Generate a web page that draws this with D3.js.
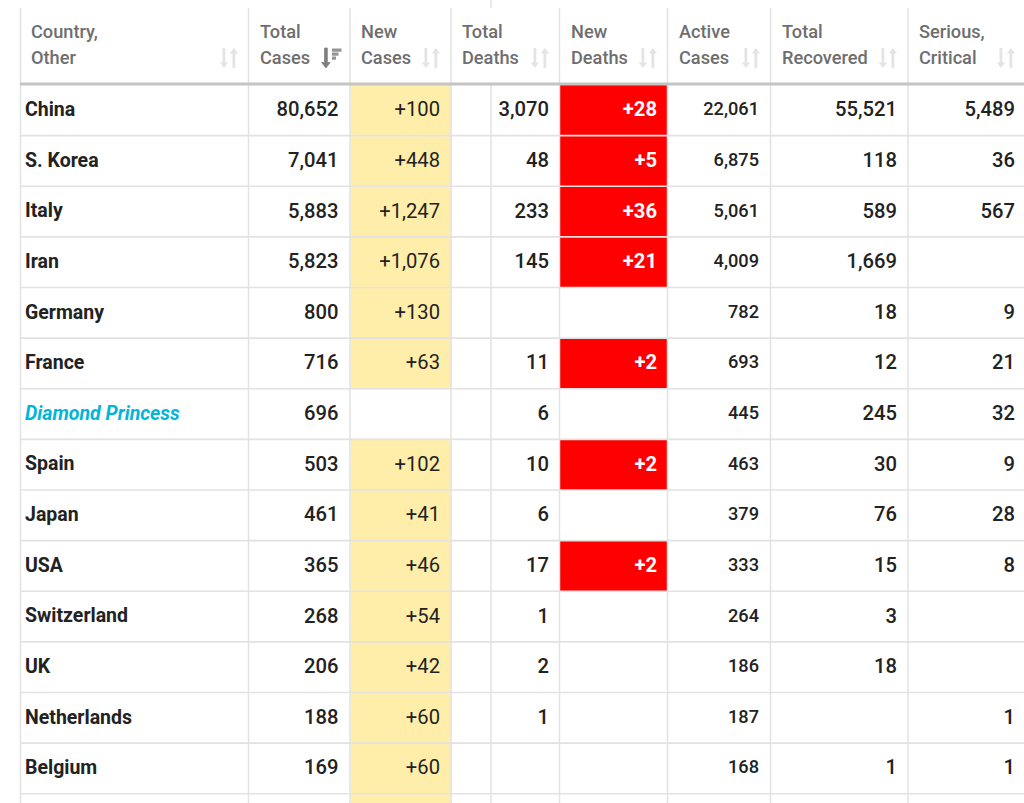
<!DOCTYPE html>
<html>
<head>
<meta charset="utf-8">
<script src="https://cdnjs.cloudflare.com/ajax/libs/d3/7.8.5/d3.min.js"></script>
<style>
	html, body {margin: 0; padding: 0; background: #fff; overflow: hidden;}
	svg {display: block; font-family: Roboto, sans-serif;}
</style>
</head>
<body>
<svg id="svg_table" width="1024" height="803"></svg>
<script>
// columns: left/right edge of each header cell, right edge of the text
const columns = [
	{key: "country",   head: ["Country,", "Other"],   x0: 20,  x1: 248, text: 25},
	{key: "total",     head: ["Total", "Cases"],      x0: 248, x1: 350, text: 338.5},
	{key: "new_c",     head: ["New", "Cases"],        x0: 350, x1: 451, text: 440},
	{key: "deaths",    head: ["Total", "Deaths"],     x0: 451, x1: 559, text: 549},
	{key: "new_d",     head: ["New", "Deaths"],       x0: 559, x1: 667, text: 657},
	{key: "active",    head: ["Active", "Cases"],     x0: 667, x1: 770, text: 759},
	{key: "recovered", head: ["Total", "Recovered"],  x0: 770, x1: 908, text: 897},
	{key: "serious",   head: ["Serious,", "Critical"], x0: 908, x1: 1030, text: 1015}
];

const rows = [
	["China", "80,652", "+100", "3,070", "+28", "22,061", "55,521", "5,489"],
	["S. Korea", "7,041", "+448", "48", "+5", "6,875", "118", "36"],
	["Italy", "5,883", "+1,247", "233", "+36", "5,061", "589", "567"],
	["Iran", "5,823", "+1,076", "145", "+21", "4,009", "1,669", ""],
	["Germany", "800", "+130", "", "", "782", "18", "9"],
	["France", "716", "+63", "11", "+2", "693", "12", "21"],
	["Diamond Princess", "696", "", "6", "", "445", "245", "32"],
	["Spain", "503", "+102", "10", "+2", "463", "30", "9"],
	["Japan", "461", "+41", "6", "", "379", "76", "28"],
	["USA", "365", "+46", "17", "+2", "333", "15", "8"],
	["Switzerland", "268", "+54", "1", "", "264", "3", ""],
	["UK", "206", "+42", "2", "", "186", "18", ""],
	["Netherlands", "188", "+60", "1", "", "187", "", "1"],
	["Belgium", "169", "+60", "", "", "168", "1", "1"]
];

const line_color = "#e2e2e2";
const svg = d3.select("#svg_table");
const head_bottom = 84;

// row index -> top of the row; the 15th row is the cut off one at the bottom
const yscale = d3.scaleLinear().domain([0, 14]).range([85, 793.7]);

// yellow and red cells
columns.forEach((col, c) => {
	if (col.key != "new_c" && col.key != "new_d") return;
	let cells = rows.map(r => r[c]);
	if (col.key == "new_c") cells.push("+");
	svg.append("g").selectAll("rect")
	   .data(cells.map((d, i) => ({d: d, i: i})).filter(d => d.d != ""))
	   .join("rect")
	   .attr("x", col.x0 + 0.5)
	   .attr("width", col.x1 - col.x0)
	   .attr("y", d => yscale(d.i))
	   .attr("height", d => yscale(d.i + 1) - yscale(d.i))
	   .attr("fill", col.key == "new_c" ? "#ffeeaa" : "#ff0000");
});

// horizontal row lines
svg.append("g").selectAll("line")
   .data(d3.range(1, 15))
   .join("line")
   .attr("x1", 20).attr("x2", 1024)
   .attr("y1", d => yscale(d)).attr("y2", d => yscale(d))
   .attr("stroke", line_color).attr("stroke-width", 1.6);

// vertical lines, the deaths column has an extra one in the body
const body_lines = [20.5, 248.5, 350, 451, 491, 559.5, 667.5, 770.5, 908];
svg.append("g").selectAll("line")
   .data(body_lines)
   .join("line")
   .attr("x1", d => d).attr("x2", d => d)
   .attr("y1", head_bottom).attr("y2", 803)
   .attr("stroke", line_color).attr("stroke-width", 1.5);

const head_lines = [20.5, 248.5, 350, 451, 559.5, 667.5, 770.5, 908];
svg.append("g").selectAll("line")
   .data(head_lines)
   .join("line")
   .attr("x1", d => d).attr("x2", d => d)
   .attr("y1", 8).attr("y2", head_bottom)
   .attr("stroke", line_color).attr("stroke-width", 1.5);

// small stub of the table above the header
svg.append("line").attr("x1", 491).attr("x2", 491).attr("y1", 0).attr("y2", 8)
   .attr("stroke", line_color).attr("stroke-width", 1.5);

// thick line under the header
svg.append("line").attr("x1", 20).attr("x2", 1024)
   .attr("y1", 84).attr("y2", 84)
   .attr("stroke", "#c4c4c4").attr("stroke-width", 3);

// header text
const head = svg.append("g").selectAll("g").data(columns).join("g");
const head_x = [31, 260, 361, 462, 571, 679, 782, 919];
[31, 57].forEach((y, l) => {
	head.append("text")
	    .attr("x", (d, i) => head_x[i])
	    .attr("y", y + 6.6)
	    .attr("font-size", 18.2)
	    .attr("font-weight", 500)
	    .attr("fill", "#6e6e6e")
	    .text(d => d.head[l]);
});

// sort icons: down arrow and up arrow
const icon_x = [229, 331, 431, 540, 648, 751, 888, 1006];
function sort_icon(g, x, active) {
	let down = "M-6.5 -9v14.5h-2.8l4.2 5.5l4.2 -5.5h-2.8v-14.5z";
	let up = "M3.5 11v-14.5h-2.8l4.2 -5.5l4.2 5.5h-2.8v14.5z";
	let i = g.append("g").attr("transform", "translate(" + x + ",57)");
	if (active) {
		i.append("path").attr("d", down).attr("fill", "#808080").attr("stroke", "#808080").attr("stroke-width", 0.8);
		[[0, 9.5], [0, 6.5], [0, 4]].forEach((b, k) => {
			i.append("rect").attr("x", 1).attr("y", -8.5 + k * 4)
			 .attr("width", b[1]).attr("height", 3.2).attr("fill", "#959595");
		});
	}
	else {
		i.append("path").attr("d", down).attr("fill", "#e4e4e4");
		i.append("path").attr("d", up).attr("fill", "#e4e4e4");
	}
}
icon_x.forEach((x, i) => sort_icon(svg, x, i == 1));

// body text
const row_g = svg.append("g").selectAll("g").data(rows).join("g");
columns.forEach((col, c) => {
	row_g.append("text")
	     .attr("x", col.text)
	     .attr("y", (d, i) => {
		     let dy = 6;
		     if (c == 0) dy = 5.8;
		     if (col.key == "active") dy = 5;
		     return (yscale(i) + yscale(i + 1)) / 2 + dy;
	     })
	     .attr("text-anchor", c == 0 ? "start" : "end")
	     .attr("font-size", d => {
		     if (c == 0) return 19.5;
		     if (col.key == "active") return 18.2;
		     return 20.2;
	     })
	     .attr("font-weight", d => {
		     if (c == 0) return 700;
		     if (col.key == "new_c") return 400;
		     if (col.key == "new_d") return 700;
		     return 500;
	     })
	     .attr("font-style", d => (c == 0 && d[0] == "Diamond Princess") ? "italic" : "normal")
	     .attr("fill", d => {
		     if (c == 0 && d[0] == "Diamond Princess") return "#00b5d8";
		     if (col.key == "new_d") return "#ffffff";
		     return "#222222";
	     })
	     .text(d => d[c]);
});
</script>
</body>
</html>
